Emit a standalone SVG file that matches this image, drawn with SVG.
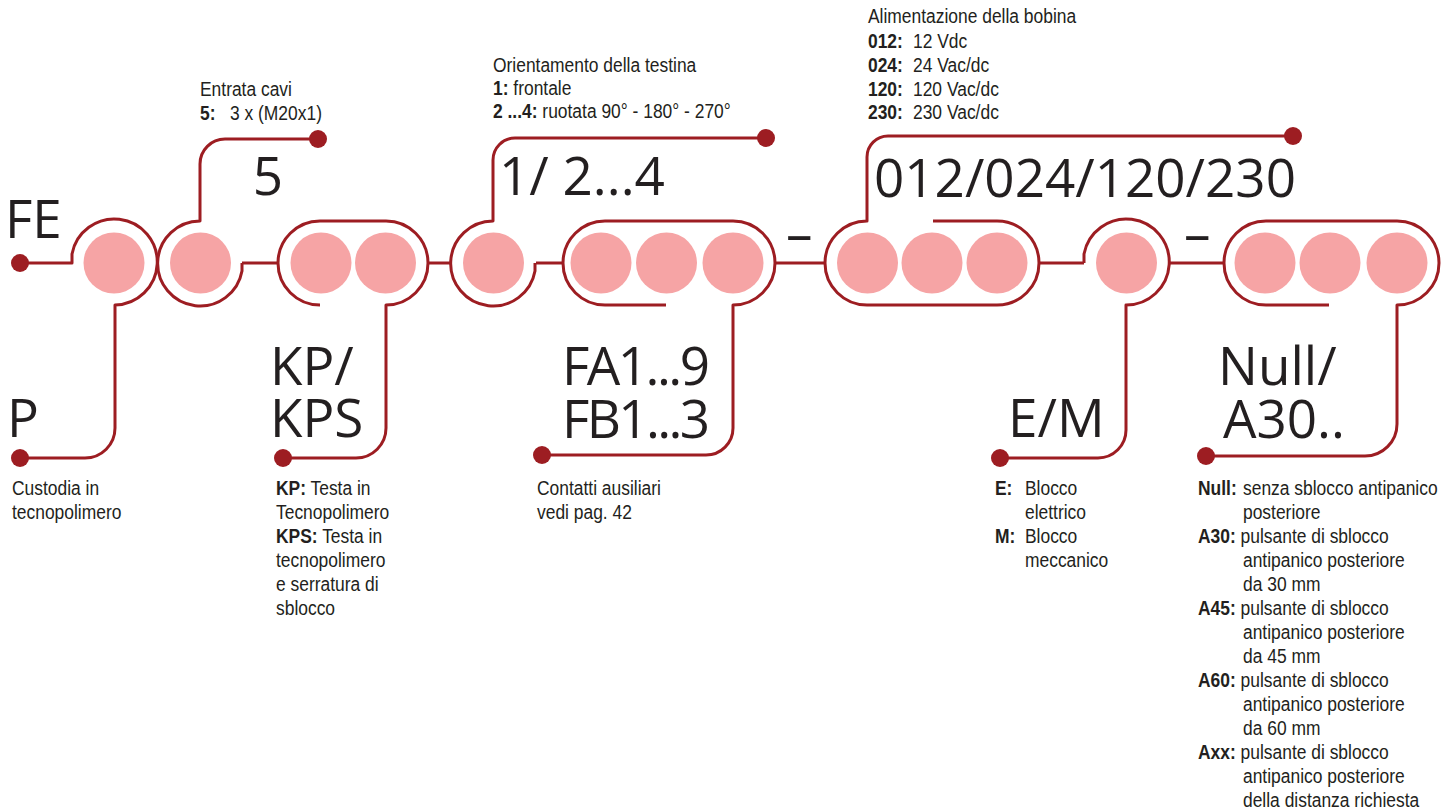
<svg xmlns="http://www.w3.org/2000/svg" width="1449" height="810" viewBox="0 0 1449 810">
<style>
.ln{fill:none;stroke:#9d1d22;stroke-width:3;stroke-linejoin:round}
.dot{fill:#9d1d22}
.c{fill:#f6a4a5}
.big{font-family:"Open Sans","DejaVu Sans",sans-serif;font-size:53px;fill:#231f20}
.sm{font-family:"Liberation Sans","Arial",sans-serif;font-size:21px;fill:#231f20;transform:scaleX(0.83);transform-box:fill-box;transform-origin:0 0}
.b{font-weight:bold}
</style>
<rect width="1449" height="810" fill="#ffffff"/>
<g id="connectors">
<path class="ln" d="M242,263 H278"/>
<path class="ln" d="M428,263 H451"/>
<path class="ln" d="M536,263 H563"/>
<path class="ln" d="M775,263 H826"/>
<path class="ln" d="M1039,263 H1084"/>
<path class="ln" d="M1168,263 H1224"/>
</g>
<g id="node-fe">
<path class="ln" d="M20,263 H72 V254 A43,43 0 1 1 115,305 V428 A30,30 0 0 1 85,458 H20"/>
<circle class="dot" cx="20" cy="263" r="9"/>
<circle class="dot" cx="20" cy="458" r="9"/>
<circle class="c" cx="114" cy="263" r="30.5"/>
<text class="big" x="5" y="238">FE</text>
<text class="big" x="7" y="437">P</text>
<text class="sm" x="12" y="495">Custodia in</text>
<text class="sm" x="12" y="519">tecnopolimero</text>
</g>
<g id="node-5">
<path class="ln" d="M318,139 H225 A25,25 0 0 0 200,164 V221 A42.5,42.5 0 1 0 242,271 V263"/>
<circle class="dot" cx="318" cy="139" r="9"/>
<circle class="c" cx="200.5" cy="263" r="30.5"/>
<text class="big" x="268" y="195" text-anchor="middle">5</text>
<text class="sm" x="200" y="96">Entrata cavi</text>
<text class="sm b" x="200" y="120">5:</text>
<text class="sm" x="230" y="120">3 x (M20x1)</text>
</g>
<g id="node-kp">
<path class="ln" d="M320,305 A42,42 0 0 1 320,221 H386 A42,42 0 0 1 386,305 V428 A30,30 0 0 1 356,458 H283"/>
<circle class="dot" cx="283" cy="458" r="9"/>
<circle class="c" cx="321" cy="263" r="30.5"/>
<circle class="c" cx="385.5" cy="263" r="30.5"/>
<text class="big" x="270" y="385">KP/</text>
<text class="big" x="270" y="437">KPS</text>
<text class="sm" x="276" y="495"><tspan class="b">KP:</tspan> Testa in</text>
<text class="sm" x="276" y="519">Tecnopolimero</text>
<text class="sm" x="276" y="543"><tspan class="b">KPS:</tspan> Testa in</text>
<text class="sm" x="276" y="567">tecnopolimero</text>
<text class="sm" x="276" y="591">e serratura di</text>
<text class="sm" x="276" y="615">sblocco</text>
</g>
<g id="node-orient">
<path class="ln" d="M766,138 H515 A22,22 0 0 0 493,160 V221 A42.5,42.5 0 1 0 535,271 V263"/>
<circle class="dot" cx="766" cy="138" r="9"/>
<circle class="c" cx="493.5" cy="263" r="30.5"/>
<text class="big" x="499" y="195">1/ 2...4</text>
<text class="sm" x="493" y="72">Orientamento della testina</text>
<text class="sm" x="493" y="95"><tspan class="b">1:</tspan> frontale</text>
<text class="sm" x="493" y="118"><tspan class="b">2 ...4:</tspan> ruotata 90° - 180° - 270°</text>
</g>
<g id="node-fa">
<path class="ln" d="M666,305 H605 A42,42 0 0 1 605,221 H733 A42,42 0 0 1 733,305 V428 A27,27 0 0 1 706,455 H542"/>
<circle class="dot" cx="542" cy="455" r="9"/>
<circle class="c" cx="601" cy="263" r="30.5"/>
<circle class="c" cx="666.5" cy="263" r="30.5"/>
<circle class="c" cx="733" cy="263" r="30.5"/>
<text class="big" x="562" y="385" textLength="148" lengthAdjust="spacing">FA1...9</text>
<text class="big" x="562" y="438" textLength="148" lengthAdjust="spacing">FB1...3</text>
<text class="sm" x="537" y="495">Contatti ausiliari</text>
<text class="sm" x="537" y="519">vedi pag. 42</text>
</g>
<text class="big" x="786" y="252">–</text>
<g id="node-coil">
<path class="ln" d="M933,221 H997 A42,42 0 0 1 997,305 H867 A42,42 0 0 1 867,221 V157 A21,21 0 0 1 888,136 H1293"/>
<circle class="dot" cx="1293" cy="136" r="9"/>
<circle class="c" cx="867.5" cy="263" r="30.5"/>
<circle class="c" cx="932" cy="263" r="30.5"/>
<circle class="c" cx="997" cy="263" r="30.5"/>
<text class="big" x="874" y="197">012/024/120/230</text>
<text class="sm" x="868" y="23">Alimentazione della bobina</text>
<text class="sm b" x="868" y="48">012:</text><text class="sm" x="913" y="48">12 Vdc</text>
<text class="sm b" x="868" y="72">024:</text><text class="sm" x="913" y="72">24 Vac/dc</text>
<text class="sm b" x="868" y="96">120:</text><text class="sm" x="913" y="96">120 Vac/dc</text>
<text class="sm b" x="868" y="119">230:</text><text class="sm" x="913" y="119">230 Vac/dc</text>
</g>
<g id="node-em">
<path class="ln" d="M1084,263 V254 A43,43 0 1 1 1126,305 V430 A28,28 0 0 1 1098,458 H1000"/>
<circle class="dot" cx="1000" cy="458" r="9"/>
<circle class="c" cx="1126.5" cy="263" r="30.5"/>
<text class="big" x="1008" y="437">E/M</text>
<text class="sm b" x="995" y="495">E:</text><text class="sm" x="1025" y="495">Blocco</text>
<text class="sm" x="1025" y="519">elettrico</text>
<text class="sm b" x="995" y="543">M:</text><text class="sm" x="1025" y="543">Blocco</text>
<text class="sm" x="1025" y="567">meccanico</text>
</g>
<text class="big" x="1184" y="252">–</text>
<g id="node-null">
<path class="ln" d="M1329,305 H1266 A42,42 0 0 1 1266,221 H1397 A42,42 0 0 1 1397,305 V424 A32,32 0 0 1 1365,456 H1206"/>
<circle class="dot" cx="1206" cy="456" r="9"/>
<circle class="c" cx="1265" cy="263" r="30.5"/>
<circle class="c" cx="1330" cy="263" r="30.5"/>
<circle class="c" cx="1397" cy="263" r="30.5"/>
<text class="big" x="1218" y="385">Null/</text>
<text class="big" x="1223" y="438">A30..</text>
<text class="sm b" x="1198" y="495">Null:</text><text class="sm" x="1243" y="495">senza sblocco antipanico</text>
<text class="sm" x="1243" y="519">posteriore</text>
<text class="sm" x="1198" y="543"><tspan class="b">A30:</tspan> pulsante di sblocco</text>
<text class="sm" x="1243" y="567">antipanico posteriore</text>
<text class="sm" x="1243" y="591">da 30 mm</text>
<text class="sm" x="1198" y="615"><tspan class="b">A45:</tspan> pulsante di sblocco</text>
<text class="sm" x="1243" y="639">antipanico posteriore</text>
<text class="sm" x="1243" y="663">da 45 mm</text>
<text class="sm" x="1198" y="687"><tspan class="b">A60:</tspan> pulsante di sblocco</text>
<text class="sm" x="1243" y="711">antipanico posteriore</text>
<text class="sm" x="1243" y="735">da 60 mm</text>
<text class="sm" x="1198" y="759"><tspan class="b">Axx:</tspan> pulsante di sblocco</text>
<text class="sm" x="1243" y="783">antipanico posteriore</text>
<text class="sm" x="1243" y="807">della distanza richiesta</text>
</g>
</svg>
